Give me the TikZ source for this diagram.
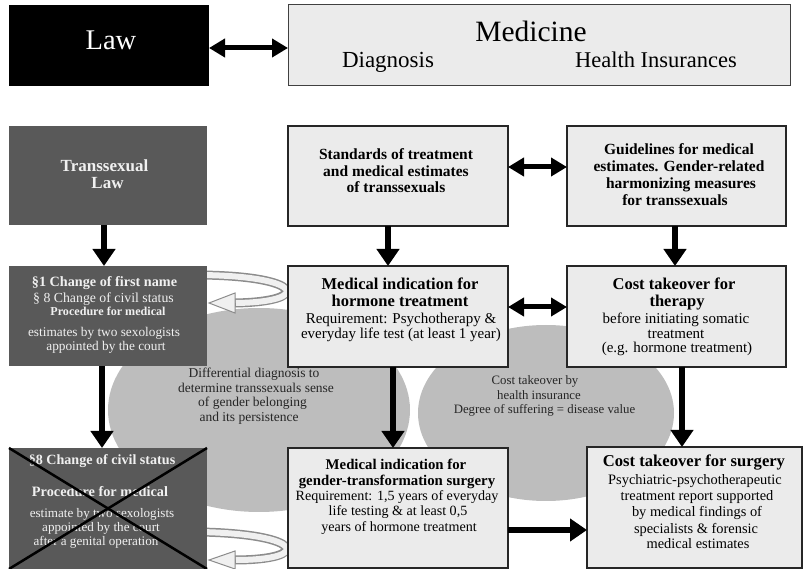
\documentclass[tikz,border=0pt]{standalone}
\usepackage{fontspec}
\setmainfont{Liberation Serif}
\usetikzlibrary{arrows.meta,calc,shapes.geometric}
\definecolor{dk}{HTML}{595959}
\definecolor{lt}{HTML}{EBEBEB}
\definecolor{el}{HTML}{BDBDBD}
\definecolor{dtext}{HTML}{F0F0F0}
\definecolor{etext}{HTML}{262626}
\definecolor{ringo}{HTML}{8C8C8C}
\definecolor{ringi}{HTML}{F0F0F0}
\newcommand\tl[5]{\node[#4,anchor=base,inner sep=0pt] (#1) at (#2,#3) {#5};}
\newcommand\fs[1]{\fontsize{#1}{#1}\selectfont}
\begin{document}
\begin{tikzpicture}[x=1pt,y=-1pt,
  dkbox/.style={fill=dk,draw=none,inner sep=0pt,outer sep=0pt,anchor=north west},
  ltbox/.style={fill=lt,draw=black!85,line width=1.1pt,inner sep=0pt,outer sep=0pt,anchor=north west},
  downarrow/.style={line width=6pt,-{Triangle[length=17pt,width=22pt]}},
  twoway/.style={line width=5pt,{Triangle[length=16pt,width=18pt]}-{Triangle[length=16pt,width=18pt]}},
  oval/.style={ellipse,fill=el,draw=none,inner sep=0pt},
  dt/.style={text=dtext},
  bt/.style={text=black},
  et/.style={text=etext}]
\useasboundingbox (0,0) rectangle (807,569);
% ellipses
\node[oval,minimum width=302pt,minimum height=204pt] (ell1) at (259,410) {};
\node[oval,minimum width=256pt,minimum height=176pt] (ell2) at (546,413) {};
% ring arrows
\draw[ringo,line width=9pt] (200,275) .. controls (305,276) and (312,302) .. (234,303);
\filldraw[fill=ringi,draw=ringo,line width=1pt] (209,303) -- (235,293) -- (235,313) -- cycle;
\draw[ringi,line width=6pt] (200,275) .. controls (305,276) and (312,302) .. (236,303);
\draw[ringo,line width=9pt] (200,532) .. controls (305,534) and (312,560) .. (234,560);
\filldraw[fill=ringi,draw=ringo,line width=1pt] (209,560) -- (235,551) -- (235,569) -- cycle;
\draw[ringi,line width=6pt] (200,532) .. controls (305,534) and (312,560) .. (236,560);
% boxes
\node[dkbox,fill=black,minimum width=200pt,minimum height=81pt] (law) at (9,5) {};
\node[ltbox,draw=black!75,line width=1pt,minimum width=502pt,minimum height=81pt] (med) at (288,5) {};
\node[dkbox,minimum width=198pt,minimum height=99pt] (tsl) at (9,126) {};
\node[ltbox,minimum width=220pt,minimum height=100pt] (std) at (288,126) {};
\node[ltbox,minimum width=219pt,minimum height=100pt] (gdl) at (567,126) {};
\node[dkbox,minimum width=198pt,minimum height=100pt] (fcn) at (9,266) {};
\node[ltbox,minimum width=220pt,minimum height=101pt] (hrm) at (288,266) {};
\node[ltbox,minimum width=219pt,minimum height=101pt] (thr) at (567,266) {};
\node[dkbox,minimum width=198pt,minimum height=121pt] (csc) at (9,448) {};
\node[ltbox,minimum width=220pt,minimum height=120pt] (srg) at (288,448) {};
\node[ltbox,minimum width=215pt,minimum height=121pt] (cst) at (587,447) {};
% arrows
\draw[twoway] ([yshift=-2.5pt]law.east) -- ([yshift=-2.5pt]law.east -| med.west);
\draw[downarrow] ([xshift=-4pt]tsl.south) -- ([xshift=-4pt]tsl.south |- fcn.north);
\draw[downarrow] ([xshift=-10pt]std.south) -- ([xshift=-10pt]std.south |- hrm.north);
\draw[downarrow] ([xshift=-1.5pt]gdl.south) -- ([xshift=-1.5pt]gdl.south |- thr.north);
\draw[twoway] ([yshift=9pt]std.east) -- ([yshift=9pt]std.east -| gdl.west);
\draw[twoway] ([yshift=9.5pt]hrm.east) -- ([yshift=9.5pt]hrm.east -| thr.west);
\draw[downarrow] ([xshift=-6pt]fcn.south) -- ([xshift=-6pt]fcn.south |- csc.north);
\draw[downarrow] ([xshift=-5pt]hrm.south) -- ([xshift=-5pt]hrm.south |- srg.north);
\draw[downarrow] ([xshift=5.5pt]thr.south) -- ([xshift=5.5pt]thr.south |- cst.north);
\draw[downarrow] ([yshift=-22pt]srg.east) -- ([yshift=-22pt]srg.east -| cst.west);
% top texts
\tl{tlaw}{111}{50}{text=white,font=\fs{28.5}}{Law}
\tl{tmed}{531}{42}{bt,font=\fs{29.5}}{Medicine}
\tl{tdia}{388}{68}{bt,font=\fs{23}}{Diagnosis}
\tl{thi}{656}{68}{bt,font=\fs{22.5}}{Health Insurances}
% transsexual law
\tl{ttsa}{104.5}{172}{dt,font=\fs{17}\bfseries}{Transsexual}
\tl{ttsb}{107.5}{189}{dt,font=\fs{17}\bfseries}{Law}
% standards
\tl{tsta}{396}{160}{bt,font=\fs{15.5}\bfseries}{Standards of treatment}
\tl{tstb}{396}{177}{bt,font=\fs{15.5}\bfseries}{and medical estimates}
\tl{tstc}{396}{193}{bt,font=\fs{15.5}\bfseries}{of transsexuals}
% guidelines
\tl{tgda}{679}{155}{bt,font=\fs{15.5}\bfseries}{Guidelines for medical}
\tl{tgdb}{679}{172}{bt,font=\fs{15.5}\bfseries}{estimates. Gender-related}
\tl{tgdc}{681}{189}{bt,font=\fs{15.5}\bfseries}{harmonizing measures}
\tl{tgdd}{675}{206}{bt,font=\fs{15.5}\bfseries}{for transsexuals}
% paragraph 1 box
\tl{tfca}{104.5}{287}{dt,font=\fs{14.2}\bfseries}{§1 Change of first name}
\tl{tfcb}{103.5}{303}{dt,font=\fs{13.8}}{§ 8 Change of civil status}
\tl{tfcc}{108}{316}{dt,font=\fs{12.1}\bfseries}{Procedure for medical}
\tl{tfcd}{104}{337}{dt,font=\fs{13.3}}{estimates by two sexologists}
\tl{tfce}{106}{351}{dt,font=\fs{13.3}}{appointed by the court}
% hormone
\tl{thra}{400}{290}{bt,font=\fs{16.5}\bfseries}{Medical indication for}
\tl{thrb}{400}{307}{bt,font=\fs{16.5}\bfseries}{hormone treatment}
\tl{thrc}{401}{323.5}{bt,font=\fs{15}}{Requirement: Psychotherapy \&}
\tl{thrd}{401}{339}{bt,font=\fs{15}}{everyday life test (at least 1 year)}
% therapy
\tl{ttha}{674}{290}{bt,font=\fs{16.5}\bfseries}{Cost takeover for}
\tl{tthb}{677}{307}{bt,font=\fs{16.5}\bfseries}{therapy}
\tl{tthc}{676}{323.5}{bt,font=\fs{15}}{before initiating somatic}
\tl{tthd}{676}{338.5}{bt,font=\fs{15}}{treatment}
\tl{tthe}{677}{353}{bt,font=\fs{15}}{(e.g. hormone treatment)}
% ellipse texts
\tl{tela}{254}{378}{et,font=\fs{13.5}}{Differential diagnosis to}
\tl{telb}{256}{393}{et,font=\fs{13.5}}{determine transsexuals sense}
\tl{telc}{252.5}{407}{et,font=\fs{13.5}}{of gender belonging}
\tl{teld}{249}{422}{et,font=\fs{13.5}}{and its persistence}
\tl{tera}{535}{385}{et,font=\fs{12.8}}{Cost takeover by}
\tl{terb}{539}{400}{et,font=\fs{12.8}}{health insurance}
\tl{terc}{544.5}{414}{et,font=\fs{12.8}}{Degree of suffering = disease value}
% paragraph 8 box
\tl{tcsa}{102}{465}{dt,font=\fs{14.1}\bfseries}{§8 Change of civil status}
\tl{tcsb}{100}{497}{dt,font=\fs{14.3}\bfseries}{Procedure for medical}
\tl{tcsc}{102}{518}{dt,font=\fs{13.1}}{estimate by two sexologists}
\tl{tcsd}{101}{532}{dt,font=\fs{13.1}}{appointed by the court}
\tl{tcse}{96}{546}{dt,font=\fs{13.1}}{after a genital operation}
\draw[line width=2.5pt] (csc.north west) -- (csc.south east);
\draw[line width=2.5pt] (csc.north east) -- (csc.south west);
% surgery
\tl{tsga}{396}{470}{bt,font=\fs{14.8}\bfseries}{Medical indication for}
\tl{tsgb}{397}{486}{bt,font=\fs{14.8}\bfseries}{gender-transformation surgery}
\tl{tsgc}{397}{500.5}{bt,font=\fs{14.1}}{Requirement: 1,5 years of everyday}
\tl{tsgd}{398}{516}{bt,font=\fs{14.1}}{life testing \& at least 0,5}
\tl{tsge}{399}{532}{bt,font=\fs{14.1}}{years of hormone treatment}
% cost surgery
\tl{tcta}{694}{467}{bt,font=\fs{16.6}\bfseries}{Cost takeover for surgery}
\tl{tctb}{695}{485}{bt,font=\fs{14.4}}{Psychiatric-psychotherapeutic}
\tl{tctc}{697}{501}{bt,font=\fs{14.4}}{treatment report supported}
\tl{tctd}{697}{517}{bt,font=\fs{14.4}}{by medical findings of}
\tl{tcte}{696}{533}{bt,font=\fs{14.4}}{specialists \& forensic}
\tl{tctf}{698}{549}{bt,font=\fs{14.4}}{medical estimates}
\end{tikzpicture}
\end{document}
